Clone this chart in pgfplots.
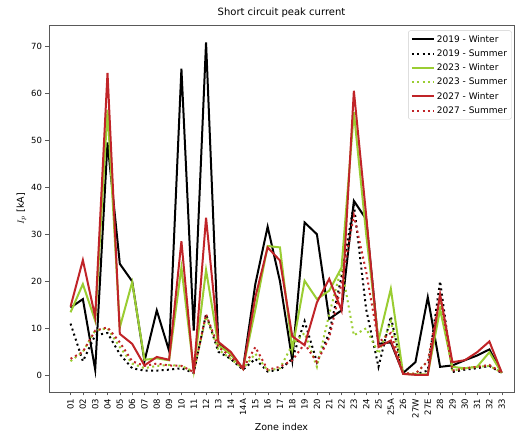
\documentclass[border=0pt]{standalone}
\usepackage{pgfplots}
\usepackage{pgfplotstable}
\pgfplotsset{compat=1.18}
\usepackage{fontspec}
\setmainfont{DejaVu Sans}

\definecolor{cW19}{RGB}{0,0,0}
\definecolor{cW23}{RGB}{154,205,50}
\definecolor{cW27}{RGB}{192,36,40}

% Peak short-circuit current per zone [kA]
% x  : zone position, BW/BS: 2019 winter/summer, GW/GS: 2023, RW/RS: 2027
\pgfplotstableread{
x  BW    BS    GW    GS    RW    RS
0  14.4  11.0  13.4  3.0   14.6  3.5
1  16.2  3.0   19.4  5.0   24.5  5.0
2  1.2   8.5   11.6  9.5   12.4  9.5
3  49.5  9.0   56.5  10.0  64.3  10.2
4  23.7  4.5   10.2  6.0   8.8   7.0
5  20.0  1.5   19.8  2.5   6.7   3.0
6  3.0   1.0   3.3   1.5   2.1   2.0
7  13.8  1.0   3.6   2.0   3.9   2.5
8  5.2   1.2   3.2   2.2   3.3   2.1
9  65.2  1.5   22.9  2.0   28.5  2.0
10 9.5   0.5   1.1   0.8   0.4   0.7
11 70.8  13.0  22.4  12.5  33.5  13.0
12 6.7   5.0   6.4   5.5   7.1   6.0
13 4.5   3.5   4.5   3.5   5.0   4.0
14 1.4   1.2   1.4   1.4   1.4   1.4
15 19.4  3.5   14.0  4.6   16.6  6.0
16 31.6  0.8   27.5  1.0   27.2  1.2
17 20.0  1.2   27.2  1.5   24.4  1.8
18 3.2   3.5   5.5   6.5   8.3   3.2
19 32.5  11.5  20.1  9.0   6.4   6.7
20 30.0  2.8   16.2  1.8   15.5  2.8
21 12.0  9.0   18.0  13.0  20.5  8.0
22 13.8  21.0  22.9  23.0  13.8  19.5
23 37.1  36.4  56.0  8.5   60.5  34.0
24 33.2  14.0  30.0  10.0  34.0  22.0
25 6.7   1.8   7.4   4.6   6.0   7.0
26 7.0   12.5  18.4  11.5  7.4   9.0
27 0.5   0.3   0.3   0.5   0.3   0.5
28 2.8   0.2   0.2   0.3   0.1   0.3
29 16.6  1.0   0.2   3.0   0.1   3.0
30 1.8   20.0  14.0  15.5  17.2  17.0
31 2.1   0.7   1.8   1.0   2.8   1.0
32 3.2   1.2   1.5   1.5   3.2   1.5
33 4.2   1.5   1.8   1.8   4.9   1.8
34 5.5   2.0   4.9   2.0   7.2   2.2
35 0.5   0.5   0.5   0.6   0.6   0.6
}\peak

\begin{document}
\begin{tikzpicture}
\begin{axis}[
  scale only axis,
  width=465pt, height=367pt,
  xmin=-1.75, xmax=36,
  ymin=-3.55, ymax=74.5,
  axis line style={black!65},
  tick align=outside,
  tick pos=left,
  major tick length=3.5pt,
  tick style={black!65},
  xtick={0,...,35},
  xticklabels={01,02,03,04,05,06,07,08,09,10,11,12,13,14,14A,15,16,17,18,19,20,21,22,23,24,25,25A,26,27W,27E,28,29,30,31,32,33},
  xticklabel style={rotate=90, anchor=east, font=\fontsize{8.5}{9}\selectfont},
  ytick={0,10,...,70},
  yticklabel style={font=\fontsize{8.5}{9}\selectfont},
  /pgf/number format/assume math mode=true,
  title={Short circuit peak current},
  title style={font=\fontsize{10}{12}\selectfont, yshift=-2pt},
  xlabel={Zone index},
  ylabel={$I_p$ [kA]},
  xlabel style={font=\fontsize{9.5}{11}\selectfont, yshift=2pt},
  ylabel style={font=\fontsize{9.5}{11}\selectfont, yshift=-2pt},
  legend style={at={(0.995,0.985)}, anchor=north east,
    draw=black!20, rounded corners=2pt, fill=white,
    font=\fontsize{9}{10}\selectfont, row sep=2pt,
    inner sep=2.5pt},
  legend cell align=left,
  legend image code/.code={\draw[#1] (0pt,0pt) -- (22pt,0pt);},
  every axis plot/.append style={line width=2pt, line join=miter, mark=none},
]
\addplot[cW19] table[x=x, y=BW] {\peak};
\addlegendentry{2019 - Winter}
\addplot[cW19, dash pattern=on 2pt off 3.3pt] table[x=x, y=BS] {\peak};
\addlegendentry{2019 - Summer}
\addplot[cW23] table[x=x, y=GW] {\peak};
\addlegendentry{2023 - Winter}
\addplot[cW23, dash pattern=on 2pt off 3.3pt] table[x=x, y=GS] {\peak};
\addlegendentry{2023 - Summer}
\addplot[cW27] table[x=x, y=RW] {\peak};
\addlegendentry{2027 - Winter}
\addplot[cW27, dash pattern=on 2pt off 3.3pt] table[x=x, y=RS] {\peak};
\addlegendentry{2027 - Summer}
\end{axis}
\pgfresetboundingbox
\path ([xshift=-49pt, yshift=-42pt]current axis.south west) rectangle ([xshift=2pt, yshift=25pt]current axis.north east);
\end{tikzpicture}
\end{document}
